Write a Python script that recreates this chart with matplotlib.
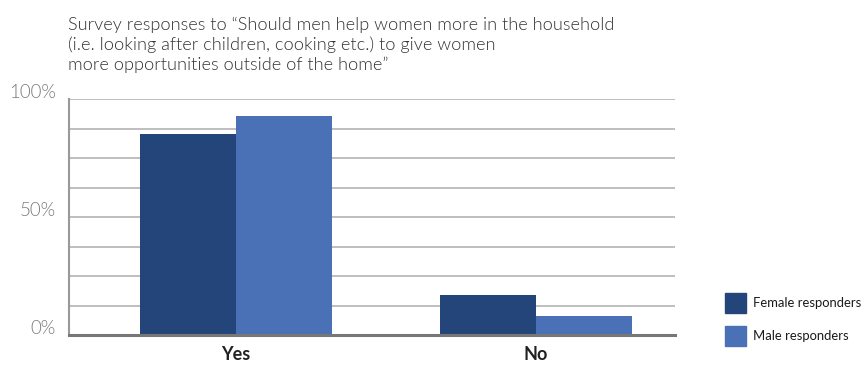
import matplotlib
matplotlib.use("Agg")
import matplotlib.pyplot as plt
import matplotlib.transforms as mtransforms
import numpy as np

categories = ["Yes", "No"]
female = [85, 17]
male = [93, 8]
series_names = ["Female responders", "Male responders"]
colors = ["#24457a", "#4a70b6"]
ytick_values = [0, 50, 100]
ytick_labels = ["0%", "50%", "100%"]
title = ("Survey responses to \u201cShould men help women more in the household\n"
         "(i.e. looking after children, cooking etc.) to give women\n"
         "more opportunities outside of the home\u201d")

plt.rcParams["font.family"] = ["Lato", "DejaVu Sans"]

fig = plt.figure(figsize=(8.63, 3.65), dpi=100)
ax = fig.add_axes([69 / 863, 30 / 365, (675 - 69) / 863, (335 - 99) / 365])

x = np.arange(len(categories))
w = 0.32
ax.bar(x - w / 2, female, w, color=colors[0], zorder=3)
ax.bar(x + w / 2, male, w, color=colors[1], zorder=3)

ax.set_xlim(-0.557, 1.463)
ax.set_ylim(0, 100)
ax.set_yticks(np.arange(0, 101, 12.5))
ax.set_yticklabels([])
ax.tick_params(axis="y", length=0)
ax.grid(axis="y", color="#b3b3b3", linewidth=1.2, zorder=0)
ax.set_xticks(x)
ax.set_xticklabels(categories, fontsize=13, fontweight="bold", color="#222222")
ax.tick_params(axis="x", length=0, pad=8)

for s in ["top", "right"]:
    ax.spines[s].set_visible(False)
ax.spines["left"].set_color("#999999")
ax.spines["left"].set_linewidth(1.5)
ax.spines["bottom"].set_color("#777777")
ax.spines["bottom"].set_linewidth(2.2)
ax.spines["bottom"].set_zorder(4)

trans = mtransforms.blended_transform_factory(fig.transFigure, ax.transData)
for v, lab in zip(ytick_values, ytick_labels):
    fig.text(56 / 863, v + 0.6, lab, transform=trans, ha="right", va="baseline",
             fontsize=13.5, color="#7a7a7a", fontweight=300)

fig.text(68 / 863, 1 - 17 / 365, title, ha="left", va="top", fontsize=13.1,
         color="#333333", fontweight=300, linespacing=1.25)

# legend
for i, (name, c) in enumerate(zip(series_names, colors)):
    yc = 1 - (303 + 33 * i) / 365
    fig.patches.append(plt.Rectangle((725 / 863, yc - 10 / 365), 21 / 863, 20 / 365,
                                     transform=fig.transFigure, color=c))
    fig.text(753 / 863, yc, name, ha="left", va="center", fontsize=9.4,
             color="#1a1a1a")

fig.savefig("out.png", dpi=100)
